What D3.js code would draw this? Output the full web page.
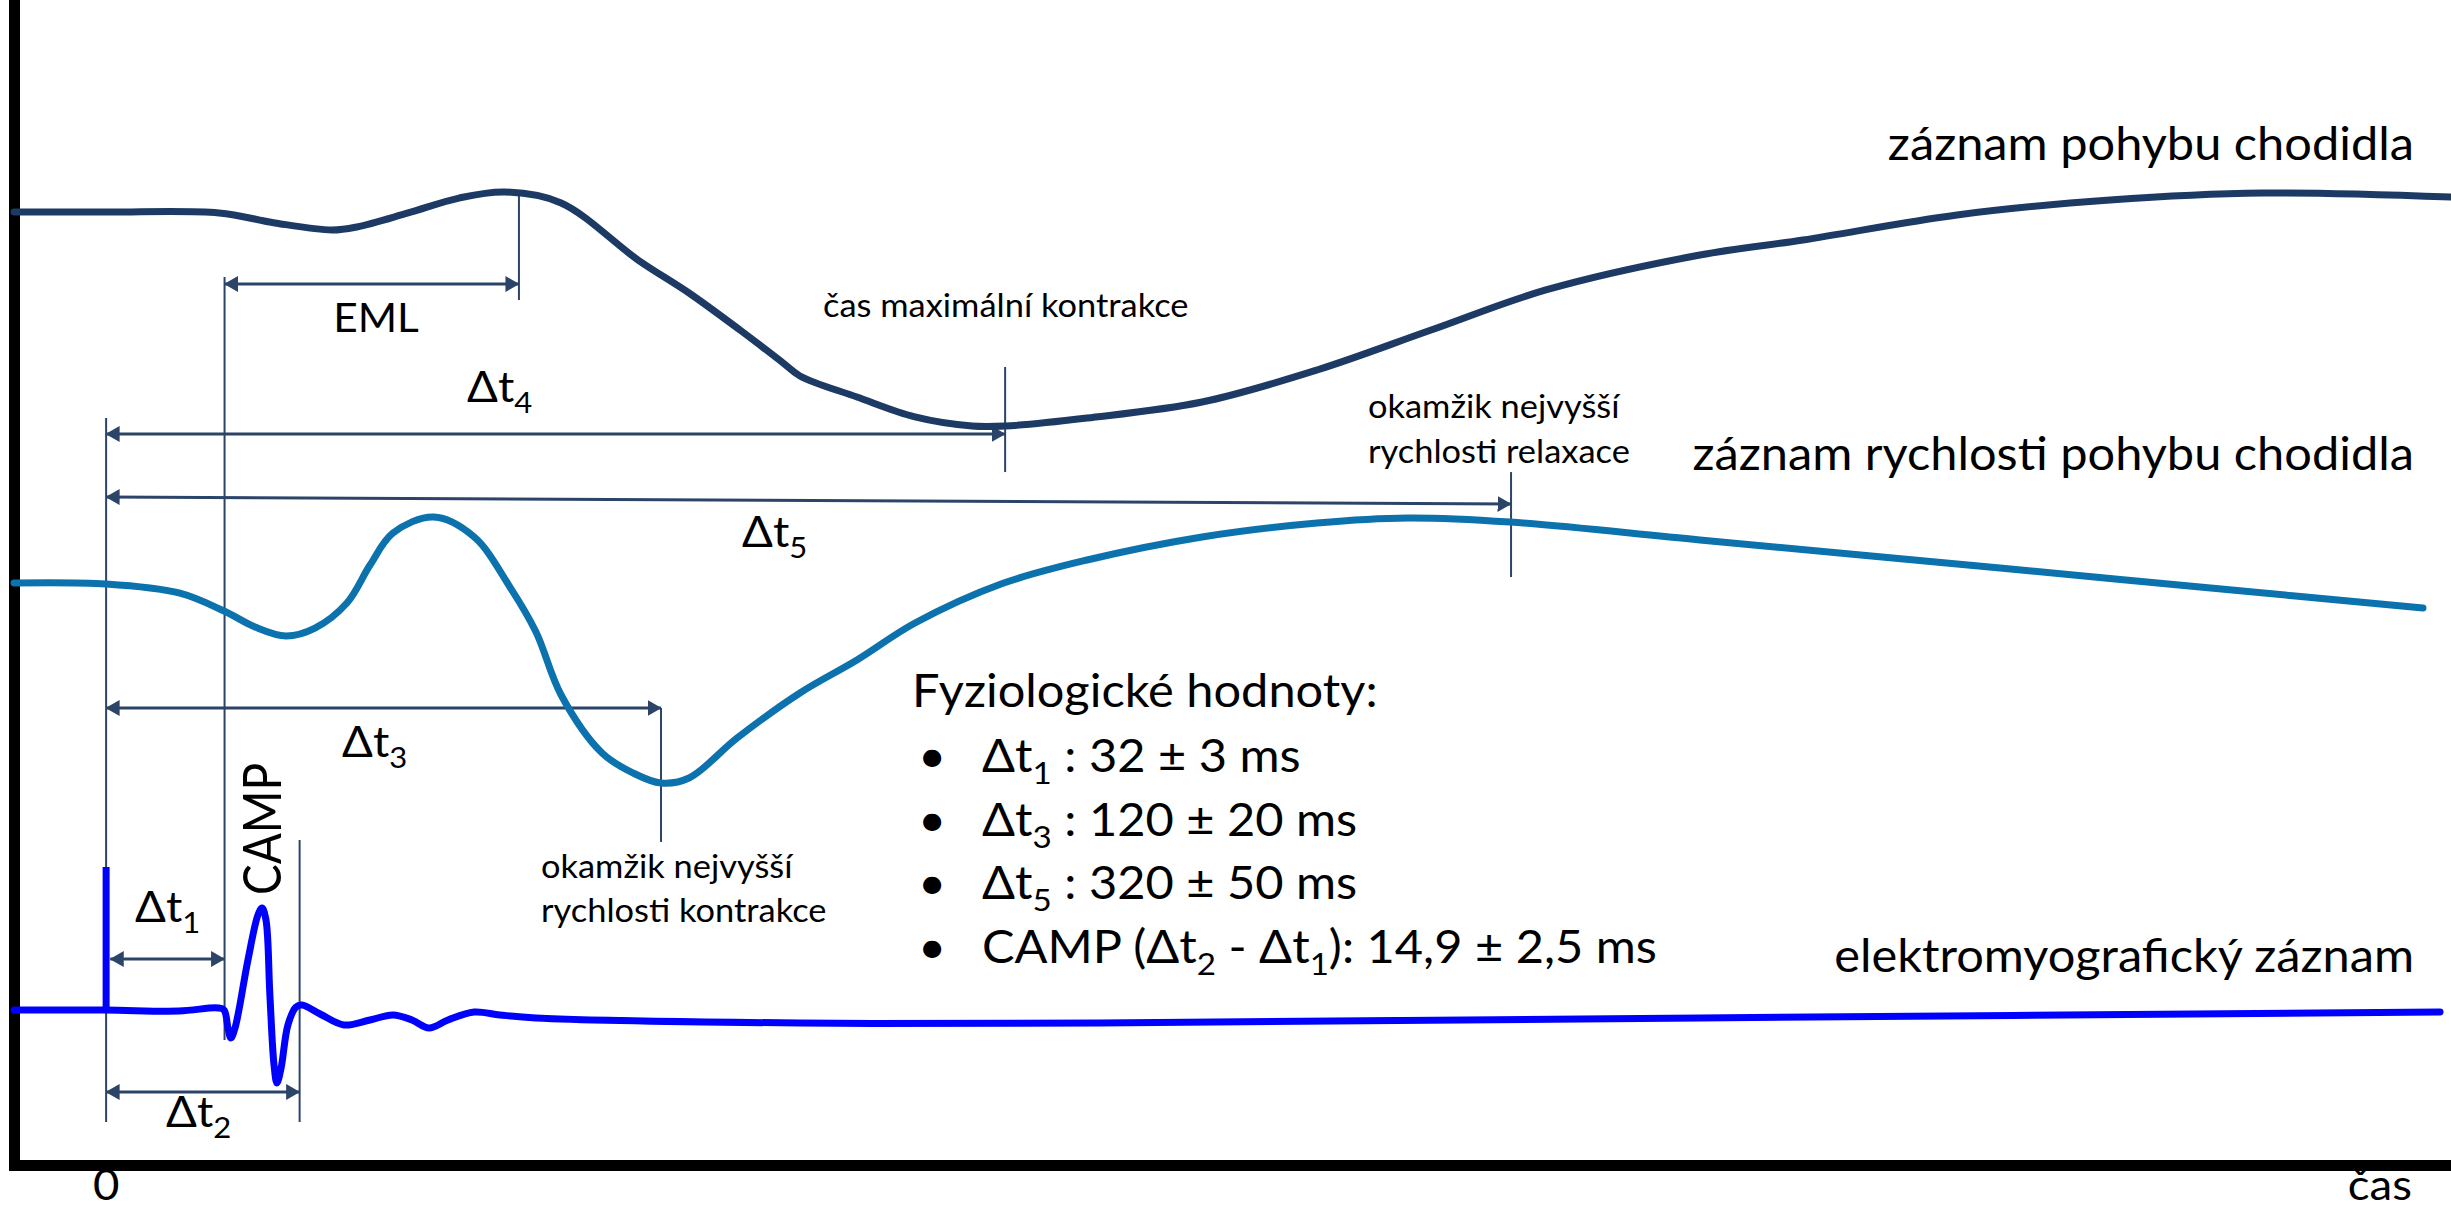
<!DOCTYPE html>
<html>
<head>
<meta charset="utf-8">
<script src="https://cdn.jsdelivr.net/npm/d3@7"></script>
<style>
  html, body { margin: 0; padding: 0; background: #ffffff; }
  svg { display: block; }
</style>
</head>
<body>
<svg id="chart"></svg>
<script>
// ---- Data -------------------------------------------------------------
// Schematic time runs 0–100 across the record; signal level is 0–100 of the plot height.

// foot movement (position) trace
const positionTrace = [
  [0, 81.80], [3.78, 81.80], [8.41, 81.72], [10.71, 80.86], [13.05, 80.26],
  [14.07, 80.52], [16.17, 81.72], [18.26, 83.00], [20.15, 83.52], [22.45, 82.58],
  [25.61, 77.68], [27.70, 74.85], [29.79, 71.67], [31.51, 68.93], [32.25, 67.73],
  [34.59, 65.92], [36.97, 64.21], [39.31, 63.43], [40.67, 63.43], [44.03, 64.12],
  [48.75, 65.49], [53.47, 68.24], [58.15, 71.67], [62.86, 75.11], [69.18, 78.11],
  [73.41, 79.40], [79.73, 81.55], [86.01, 82.83], [92.29, 83.43], [100, 83.09]
];

// foot movement velocity trace
const velocityTrace = [
  [0, 49.96], [3.78, 49.87], [6.77, 49.10], [8.62, 47.55], [9.89, 46.18],
  [11.16, 45.41], [12.35, 46.09], [13.66, 48.24], [14.61, 51.50], [15.55, 54.25],
  [17.23, 55.62], [18.88, 53.91], [20.35, 49.61], [21.42, 45.75], [22.45, 40.34],
  [24.13, 35.36], [25.40, 33.65], [26.55, 32.79], [27.70, 33.22], [29.67, 36.65],
  [32.25, 40.52], [34.59, 43.35], [36.97, 46.52], [40.50, 49.87], [44.03, 51.93],
  [48.75, 53.91], [53.47, 55.11], [57.20, 55.54], [61.39, 55.19], [69.18, 53.65],
  [81.49, 51.24], [89.70, 49.61], [98.85, 47.81]
];

// electromyographic trace (compound muscle action potential and after-waves)
const emgTrace = [
  [0, 13.30], [3.73, 13.30], [6.77, 13.22], [8.37, 13.48], [8.62, 13.30],
  [8.78, 11.76], [8.90, 10.90], [9.07, 11.76], [9.60, 17.60], [10.01, 21.46],
  [10.18, 22.06], [10.34, 21.03], [10.50, 14.59], [10.67, 8.58], [10.79, 7.04],
  [10.96, 8.33], [11.24, 12.02], [11.57, 13.56], [11.82, 13.73], [12.56, 12.96],
  [13.54, 12.02], [14.61, 12.45], [15.55, 12.88], [16.33, 12.45], [17.03, 11.76],
  [17.81, 12.45], [18.88, 13.13], [19.94, 12.88], [21.42, 12.62], [32.25, 12.19],
  [44.56, 12.19], [69.18, 12.62], [99.55, 13.13]
];

// stimulus artefact: time and level range
const stimulus = [3.78, 13.30, 25.58];

// event times on the schematic time axis
const tStimulus   = 3.78;   // 0
const tEmgOnset   = 8.64;   // end of Δt1
const tEmgEnd     = 11.72;  // end of Δt2
const tPosPeak    = 20.72;  // end of EML
const tVelMin     = 26.55;  // Δt3, highest contraction velocity
const tPosMin     = 40.67;  // Δt4, maximal contraction
const tVelMax     = 61.43;  // Δt5, highest relaxation velocity

// vertical guide lines: [time, level from, level to]
const guides = [
  [tStimulus, 64.12, 3.69],
  [tEmgOnset, 76.22, 10.73],
  [tEmgEnd, 27.90, 3.69],
  [tPosPeak, 83.52, 74.25],
  [tPosMin, 68.50, 59.48],
  [tVelMin, 39.23, 27.73],
  [tVelMax, 59.48, 50.47]
];

// interval arrows: [time from, time to, level at start, level at end]
const intervals = [
  [tEmgOnset, tPosPeak, 75.62, 75.62],   // EML
  [tStimulus, tPosMin, 62.75, 62.75],    // Δt4
  [tStimulus, tVelMax, 57.34, 56.74],    // Δt5
  [tStimulus, tVelMin, 39.23, 39.23],    // Δt3
  [tStimulus + 0.17, tEmgOnset, 17.68, 17.68], // Δt1
  [tStimulus, tEmgEnd, 6.27, 6.27]       // Δt2
];

const traceLabels = ["záznam pohybu chodidla", "záznam rychlosti pohybu chodidla", "elektromyografický záznam"];
const axisLabels = ["0", "čas"];
const valueLines = [
  [["Δt", 0], ["1", 1], [" : 32 ± 3 ms", 0]],
  [["Δt", 0], ["3", 1], [" : 120 ± 20 ms", 0]],
  [["Δt", 0], ["5", 1], [" : 320 ± 50 ms", 0]],
  [["CAMP (Δt", 0], ["2", 1], [" - Δt", 0], ["1", 1], ["): 14,9 ± 2,5 ms", 0]]
];

// ---- Drawing ----------------------------------------------------------
const W = 2451, H = 1213;
const FONT = "Lato, 'Open Sans', 'Noto Sans', sans-serif";
const STRETCH = 1.06;          // text is set slightly wide
const ANNOT = "#2b4468";

const svg = d3.select("#chart")
  .attr("width", W).attr("height", H)
  .attr("viewBox", `0 0 ${W} ${H}`);

const x = d3.scaleLinear().domain([0, 100]).range([14, W]);
const y = d3.scaleLinear().domain([0, 100]).range([1165, 0]);

// arrowhead marker
const defs = svg.append("defs");
defs.append("marker")
  .attr("id", "head")
  .attr("markerUnits", "userSpaceOnUse")
  .attr("viewBox", "0 0 14 16")
  .attr("markerWidth", 14).attr("markerHeight", 16)
  .attr("refX", 13.5).attr("refY", 8)
  .attr("orient", "auto-start-reverse")
  .append("path").attr("d", "M0,0 L14,8 L0,16 Z").attr("fill", ANNOT);

// axes
const xAxis = d3.axisBottom(x).tickValues([tStimulus]).tickFormat(() => "").tickSizeInner(0).tickSizeOuter(0);
const yAxis = d3.axisLeft(y).tickValues([]).tickSizeOuter(0);
const gx = svg.append("g").attr("transform", `translate(0,${y(0)})`).call(xAxis);
const gy = svg.append("g").attr("transform", `translate(${x(0)},0)`).call(yAxis);
[gx, gy].forEach(g => g.select(".domain")
  .attr("stroke", "#000").attr("stroke-width", 11).attr("stroke-linecap", "square"));

// guides
svg.append("g").selectAll("line").data(guides).join("line")
  .attr("x1", d => x(d[0])).attr("x2", d => x(d[0]))
  .attr("y1", d => y(d[1])).attr("y2", d => y(d[2]))
  .attr("stroke", ANNOT).attr("stroke-width", 2);

// interval arrows
svg.append("g").selectAll("line").data(intervals).join("line")
  .attr("x1", d => x(d[0])).attr("x2", d => x(d[1]))
  .attr("y1", d => y(d[2])).attr("y2", d => y(d[3]))
  .attr("stroke", ANNOT).attr("stroke-width", 3)
  .attr("marker-start", "url(#head)").attr("marker-end", "url(#head)");

// traces
const line = d3.line().x(d => x(d[0])).y(d => y(d[1])).curve(d3.curveCatmullRom.alpha(0.5));
const traces = [
  [positionTrace, "#1c3a63"],
  [velocityTrace, "#0b72ad"],
  [emgTrace, "#0000ff"]
];
svg.append("g").selectAll("path").data(traces).join("path")
  .attr("d", d => line(d[0]))
  .attr("fill", "none").attr("stroke", d => d[1])
  .attr("stroke-width", 7).attr("stroke-linecap", "round").attr("stroke-linejoin", "round");

// stimulus artefact
svg.append("line")
  .attr("x1", x(stimulus[0])).attr("x2", x(stimulus[0]))
  .attr("y1", y(stimulus[1])).attr("y2", y(stimulus[2]))
  .attr("stroke", "#0000ff").attr("stroke-width", 7);

// ---- Text -------------------------------------------------------------
const textLayer = svg.append("g").attr("font-family", FONT).attr("fill", "#000");

function label(px, py, size, parts, anchor = "start", rotate = 0, stretch = STRETCH) {
  const t = textLayer.append("text")
    .attr("transform", rotate
      ? `translate(${px},${py}) rotate(${rotate}) scale(1,${stretch})`
      : `translate(${px},${py}) scale(${stretch},1)`)
    .attr("font-size", size)
    .attr("text-anchor", anchor);
  if (typeof parts === "string") { t.text(parts); return t; }
  const subSize = size * 0.68, drop = size * 0.26;
  let lowered = false;
  parts.forEach(([s, sub]) => {
    const ts = t.append("tspan").text(s);
    if (sub && !lowered) { ts.attr("font-size", subSize).attr("dy", drop); lowered = true; }
    else if (!sub && lowered) { ts.attr("dy", -drop); lowered = false; }
    else if (sub) ts.attr("font-size", subSize);
  });
  return t;
}

// trace names
label(2414, 160, 46, traceLabels[0], "end");
label(2414, 470, 46, traceLabels[1], "end");
label(2414, 972, 46, traceLabels[2], "end");

// axis labels
label(x(tStimulus), 1200, 43, axisLabels[0], "middle");
label(2412, 1200, 43, axisLabels[1], "end");

// interval names
label(376, 332, 40, "EML", "middle");
label(467, 402, 43, [["Δt", 0], ["4", 1]]);
label(742, 547, 43, [["Δt", 0], ["5", 1]]);
label(342, 757, 43, [["Δt", 0], ["3", 1]]);
label(135, 922, 43, [["Δt", 0], ["1", 1]]);
label(166, 1127, 43, [["Δt", 0], ["2", 1]]);
label(281, 895, 46, "CAMP", "start", -90, 1.15);

// event notes
label(823, 317, 32.5, "čas maximální kontrakce");
label(1368, 418, 32.5, "okamžik nejvyšší");
label(1368, 463, 32.5, "rychlosti relaxace");
label(541, 878, 32.5, "okamžik nejvyšší");
label(541, 922, 32.5, "rychlosti kontrakce");

// physiological values
label(912, 707, 46, "Fyziologické hodnoty:");
valueLines.forEach((parts, i) => {
  const by = 772 + i * 63.7;
  label(918, by, 46, "•");
  label(982, by, 46, parts);
});
</script>
</body>
</html>
